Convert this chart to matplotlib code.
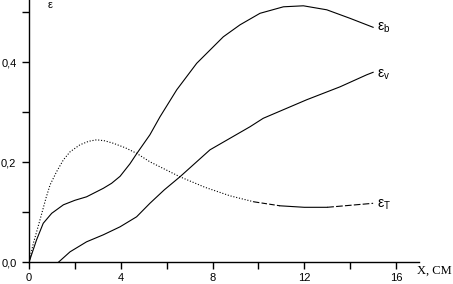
import matplotlib
matplotlib.use("Agg")
import matplotlib.pyplot as plt
from matplotlib.ticker import FixedLocator, FuncFormatter

# curve values
x_b = [0, 0.33, 0.62, 0.99, 1.5, 2.0, 2.51, 3.24, 3.6, 3.97, 4.4, 4.69, 5.27, 5.71, 6.44,
       7.31, 8.47, 9.2, 10.07, 11.09, 11.96, 12.98, 13.99, 15.0]
eps_b = [0, 0.045, 0.078, 0.098, 0.115, 0.124, 0.131, 0.148, 0.158, 0.172, 0.197, 0.217,
         0.255, 0.291, 0.345, 0.398, 0.451, 0.475, 0.498, 0.511, 0.513, 0.505, 0.488, 0.47]

x_v = [1.28, 1.79, 2.51, 3.24, 3.97, 4.69, 5.27, 5.9, 6.58, 7.89, 9.63, 10.21, 12.1,
       13.56, 14.72, 15.0]
eps_v = [0, 0.021, 0.041, 0.055, 0.071, 0.091, 0.118, 0.145, 0.171, 0.225, 0.271, 0.288,
         0.325, 0.351, 0.375, 0.38]

x_t = [0, 0.19, 0.48, 0.75, 0.92, 1.2, 1.5, 1.79, 2.22, 2.6, 2.95, 3.3, 3.68, 4.2, 4.69,
       5.27, 6.58, 7.67, 8.76, 9.8, 10.94, 12.0, 13.0, 14.0, 15.0]
eps_t = [0, 0.038, 0.085, 0.13, 0.155, 0.181, 0.205, 0.221, 0.235, 0.242, 0.245, 0.243,
         0.238, 0.229, 0.218, 0.201, 0.171, 0.150, 0.133, 0.121, 0.113, 0.110, 0.110,
         0.114, 0.118]

x_ticks = [0, 4, 8, 12, 16]
x_minor = [2, 6, 10, 14]
y_ticks = [0.0, 0.2, 0.4]
y_minor = [0.1, 0.3, 0.5]

plt.rcParams["font.family"] = ["Liberation Sans", "DejaVu Sans"]
plt.rcParams["mathtext.default"] = "regular"
fig = plt.figure(figsize=(4.53, 2.84), dpi=100)
ax = fig.add_axes([29 / 453, 21.7 / 284, 390 / 453, 262.3 / 284])

lw = 0.8
ax.plot(x_b, eps_b, color="black", lw=lw)
ax.plot(x_v, eps_v, color="black", lw=lw)

# eps_T: drawn dotted first, then dashed / solid like the scan
segs = [(0, 19, (0, (1, 1.6))), (19, 20, (0, (5, 2))), (20, 22, "-"), (22, 24, (0, (6, 2)))]
for i0, i1, ls in segs:
    ax.plot(x_t[i0:i1 + 1], eps_t[i0:i1 + 1], color="black", lw=lw, linestyle=ls)

ax.set_xlim(0, 17)
ax.set_ylim(0, 0.5246)
for s in ["top", "right"]:
    ax.spines[s].set_visible(False)
for s in ["left", "bottom"]:
    ax.spines[s].set_linewidth(1.0)

ax.xaxis.set_major_locator(FixedLocator(x_ticks))
ax.xaxis.set_minor_locator(FixedLocator(x_minor))
ax.yaxis.set_major_locator(FixedLocator(y_ticks))
ax.yaxis.set_minor_locator(FixedLocator(y_minor))
ax.yaxis.set_major_formatter(FuncFormatter(lambda v, p: f"{v:.1f}".replace(".", ",")))
ax.tick_params(which="both", direction="out", length=5, width=1.0, labelsize=8)
ax.tick_params(axis="x", pad=3)
ax.tick_params(axis="y", pad=4)

ax.text(15.15, 0.47, r"$\varepsilon_b$", fontsize=10, ha="left", va="center")
ax.text(15.15, 0.375, r"$\varepsilon_v$", fontsize=10, ha="left", va="center")
ax.text(15.15, 0.115, r"$\varepsilon_T$", fontsize=10, ha="left", va="center")
fig.text(50 / 453, 1 - 5 / 284, r"$\varepsilon$", fontsize=8, ha="center", va="center")
fig.text(434 / 453, 1 - 271 / 284, "X, CM", fontsize=9, family="Liberation Serif",
         ha="center", va="center")

fig.savefig("out.png", dpi=100)
